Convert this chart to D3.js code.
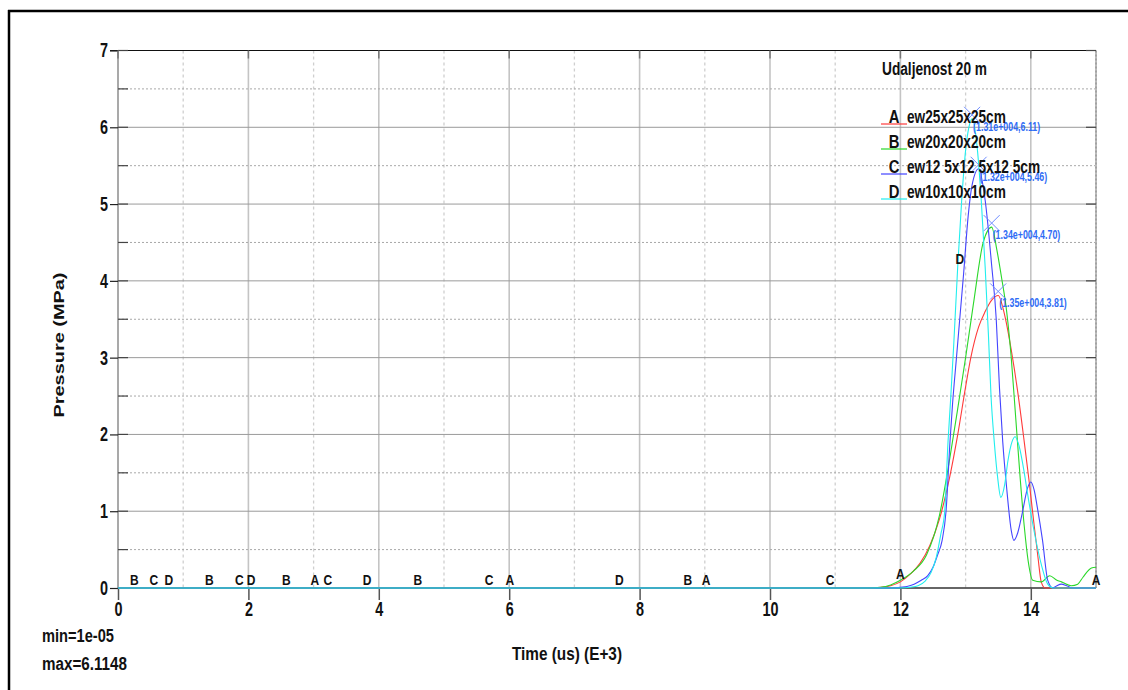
<!DOCTYPE html>
<html><head><meta charset="utf-8">
<script src="https://cdn.jsdelivr.net/npm/d3@7"></script>
<style>html,body{margin:0;padding:0;background:#fff;} svg{display:block;}</style>
</head><body>
<svg id="chart" width="1128" height="690"></svg>
<script>
// ---------- data ----------
const xTickValues = [0, 2, 4, 6, 8, 10, 12, 14];
const yTickValues = [0, 1, 2, 3, 4, 5, 6, 7];
const chartTitle = "Udaljenost 20 m";
const xAxisTitle = "Time (us) (E+3)";
const yAxisTitle = "Pressure (MPa)";
const statsLines = ["min=1e-05", "max=6.1148"];

const seriesLetters = ["A", "B", "C", "D"];
const seriesNames = ["ew25x25x25cm", "ew20x20x20cm", "ew12 5x12 5x12 5cm", "ew10x10x10cm"];
const seriesColors = ["#ff3a3a", "#2ad82a", "#4444ff", "#22eeee"];

const timeA = [0, 11.5, 11.7, 11.85, 12.0, 12.15, 12.3, 12.45, 12.6, 12.75, 12.88, 13.0, 13.08, 13.2, 13.3, 13.4, 13.5, 13.6, 13.7, 13.8, 13.9, 13.97, 14.04, 14.11, 14.16, 14.22, 15];
const pressureA = [0, 0, 0.01, 0.03, 0.08, 0.18, 0.32, 0.55, 0.9, 1.42, 2.0, 2.62, 3.0, 3.4, 3.6, 3.75, 3.81, 3.55, 3.1, 2.55, 1.9, 1.42, 0.9, 0.4, 0.08, 0, 0];

const timeB = [0, 11.5, 11.7, 11.85, 12.0, 12.2, 12.4, 12.6, 12.76, 12.9, 13.0, 13.12, 13.27, 13.4, 13.48, 13.55, 13.63, 13.7, 13.77, 13.84, 13.9, 13.96, 14.03, 14.16, 14.29, 14.4, 14.47, 14.62, 14.72, 14.8, 14.93, 15.0];
const pressureB = [0, 0, 0.01, 0.04, 0.1, 0.22, 0.43, 0.95, 1.7, 2.45, 3.0, 3.7, 4.5, 4.70, 4.4, 4.05, 3.6, 3.0, 2.2, 1.4, 0.8, 0.35, 0.1, 0.08, 0.16, 0.1, 0.08, 0.03, 0.05, 0.14, 0.26, 0.27];

const timeC = [0, 11.9, 12.0, 12.1, 12.21, 12.32, 12.42, 12.5, 12.57, 12.64, 12.7, 12.76, 12.8, 12.86, 12.92, 12.97, 13.04, 13.1, 13.2, 13.3, 13.4, 13.47, 13.52, 13.57, 13.63, 13.7, 13.74, 13.8, 13.87, 13.95, 14.0, 14.05, 14.1, 14.18, 14.26, 14.34, 14.4, 14.47, 14.55, 14.64, 15];
const pressureC = [0, 0, 0.01, 0.02, 0.05, 0.1, 0.16, 0.27, 0.43, 0.62, 1.0, 1.9, 2.4, 3.0, 3.6, 4.1, 4.85, 5.25, 5.46, 5.05, 4.2, 3.5, 2.6, 1.9, 1.3, 0.75, 0.62, 0.72, 0.98, 1.3, 1.38, 1.28, 1.05, 0.62, 0.1, 0, 0.03, 0.05, 0.03, 0, 0];

const timeD = [0, 12.0, 12.15, 12.27, 12.38, 12.47, 12.55, 12.62, 12.68, 12.73, 12.77, 12.82, 12.88, 12.94, 13.0, 13.05, 13.1, 13.17, 13.24, 13.3, 13.35, 13.39, 13.44, 13.49, 13.54, 13.6, 13.65, 13.71, 13.76, 13.82, 13.9, 13.95, 14.06, 14.16, 14.26, 14.34, 15];
const pressureD = [0, 0, 0.01, 0.03, 0.09, 0.2, 0.4, 0.7, 1.0, 1.9, 2.45, 3.2, 4.2, 5.05, 5.7, 6.0, 6.11, 5.8, 5.05, 4.18, 3.3, 2.5, 1.9, 1.45, 1.18, 1.35, 1.66, 1.9, 1.97, 1.85, 1.5, 1.23, 0.7, 0.31, 0.05, 0, 0];

const peakTimes = [13.5, 13.4, 13.2, 13.1];
const peakValues = [3.81, 4.70, 5.46, 6.11];
const peakLabels = ["(1.35e+004,3.81)", "(1.34e+004,4.70)", "(1.32e+004,5.46)", "(1.31e+004,6.11)"];

const markerLetters = ["B", "C", "D", "B", "C", "D", "B", "A", "C", "D", "B", "C", "A", "D", "B", "A", "C", "A", "D", "A"];
const markerTimes   = [0.25, 0.55, 0.78, 1.4, 1.86, 2.04, 2.58, 3.02, 3.22, 3.82, 4.6, 5.69, 6.01, 7.69, 8.74, 9.02, 10.92, 12.0, 12.91, 15.0];
const markerValues  = [0, 0, 0, 0, 0, 0, 0, 0, 0, 0, 0, 0, 0, 0, 0, 0, 0, 0.08, 4.18, 0];

// ---------- drawing ----------
const svg = d3.select("#chart");
const FONT = "'Liberation Sans Narrow','Arial Narrow','Liberation Sans',Arial,sans-serif";
const x = d3.scaleLinear().domain([0, 15]).range([118, 1096]);
const y = d3.scaleLinear().domain([0, 7]).range([588, 50.5]);

function squeeze(sel, k) {
  sel.each(function () {
    const w = this.getComputedTextLength();
    d3.select(this).attr("textLength", w * k).attr("lengthAdjust", "spacingAndGlyphs");
  });
}
function fitTo(sel, w) {
  sel.attr("textLength", w).attr("lengthAdjust", "spacingAndGlyphs");
}

// outer frame
svg.append("line").attr("x1", 8).attr("x2", 1128).attr("y1", 11).attr("y2", 11).attr("stroke", "#000").attr("stroke-width", 2.5);
svg.append("line").attr("x1", 9).attr("x2", 9).attr("y1", 10).attr("y2", 690).attr("stroke", "#000").attr("stroke-width", 2.5);

const grid = svg.append("g");
d3.range(1, 15).forEach(v => {
  const major = v % 2 === 0;
  grid.append("line").attr("x1", x(v)).attr("x2", x(v)).attr("y1", y(7)).attr("y2", y(0))
    .attr("stroke", major ? "#c4c4c4" : "#cfcfcf").attr("stroke-width", major ? 1.6 : 1.3)
    .attr("stroke-dasharray", major ? null : "3,3");
});
d3.range(0.5, 7, 0.5).forEach(v => {
  const major = Math.abs(v - Math.round(v)) < 1e-9;
  grid.append("line").attr("x1", x(0)).attr("x2", x(15)).attr("y1", y(v)).attr("y2", y(v))
    .attr("stroke", major ? "#9a9a9a" : "#a8a8a8").attr("stroke-width", 1)
    .attr("stroke-dasharray", major ? null : "2,2");
});
grid.append("line").attr("x1", x(15)).attr("x2", x(15)).attr("y1", y(7)).attr("y2", y(0)).attr("stroke", "#bdbdbd").attr("stroke-width", 2);
grid.append("line").attr("x1", x(15)).attr("x2", x(15)).attr("y1", y(7)).attr("y2", y(0)).attr("stroke", "#888").attr("stroke-width", 1).attr("stroke-dasharray", "2,2");
grid.append("line").attr("x1", x(0)).attr("x2", x(0)).attr("y1", y(7)).attr("y2", y(0)).attr("stroke", "#a9a9a9").attr("stroke-width", 2);
grid.append("line").attr("x1", x(0) - 8).attr("x2", x(15)).attr("y1", y(7)).attr("y2", y(7)).attr("stroke", "#111").attr("stroke-width", 1);
grid.append("line").attr("x1", x(0)).attr("x2", x(15)).attr("y1", y(0)).attr("y2", y(0)).attr("stroke", "#333").attr("stroke-width", 1.5);

// y axis
const yAxis = svg.append("g").attr("transform", `translate(${x(0)},0)`)
  .call(d3.axisLeft(y).tickValues(yTickValues).tickFormat(d3.format("d")).tickSize(8).tickPadding(2));
yAxis.select(".domain").remove();
yAxis.selectAll(".tick line").attr("stroke", "#222").attr("stroke-width", 1.2);
yAxis.selectAll(".tick text").attr("font-family", FONT).attr("font-weight", "bold").attr("font-size", 20).attr("fill", "#111");
squeeze(yAxis.selectAll(".tick text"), 0.72);
d3.range(0.5, 7.01, 0.5).forEach(v => {
  const major = Math.abs(v - Math.round(v)) < 1e-9;
  svg.append("line").attr("x1", x(0)).attr("x2", x(0) + 10).attr("y1", y(v)).attr("y2", y(v)).attr("stroke", "#444").attr("stroke-width", 1.2);
  if (major) svg.append("line").attr("x1", x(15) - 10).attr("x2", x(15)).attr("y1", y(v)).attr("y2", y(v)).attr("stroke", "#444").attr("stroke-width", 1.2);
});

// x axis
const xAxis = svg.append("g").attr("transform", `translate(0,${y(0)})`)
  .call(d3.axisBottom(x).tickValues(xTickValues).tickFormat(d3.format("d")).tickSize(12).tickPadding(2));
xAxis.select(".domain").remove();
xAxis.selectAll(".tick line").attr("stroke", "#555").attr("stroke-width", 1.5);
xAxis.selectAll(".tick text").attr("font-family", FONT).attr("font-weight", "bold").attr("font-size", 20).attr("fill", "#111");
squeeze(xAxis.selectAll(".tick text"), 0.72);
xTickValues.forEach(v => {
  svg.append("line").attr("x1", x(v)).attr("x2", x(v)).attr("y1", y(7)).attr("y2", y(7) + 8).attr("stroke", "#777").attr("stroke-width", 1.5);
});

// curves
const allTimes = [timeA, timeB, timeC, timeD];
const allValues = [pressureA, pressureB, pressureC, pressureD];
const line = d3.line().x(d => x(d[0])).y(d => y(d[1])).curve(d3.curveMonotoneX);
allTimes.forEach((ts, i) => {
  const pts = ts.map((t, j) => [t, allValues[i][j]]);
  svg.append("path").attr("d", line(pts)).attr("fill", "none")
    .attr("stroke", seriesColors[i]).attr("stroke-width", 1.1);
});

// curve letter markers
const mk = svg.append("g");
markerLetters.forEach((m, i) => {
  mk.append("text").attr("x", x(markerTimes[i])).attr("y", y(markerValues[i]) - 3)
    .attr("text-anchor", "middle").attr("font-family", FONT).attr("font-weight", "bold")
    .attr("font-size", 15).attr("fill", "#111").text(m);
});
squeeze(mk.selectAll("text"), 0.8);

// peak crosses and labels
const pk = svg.append("g");
peakTimes.forEach((t, i) => {
  const cx = x(t), cy = y(peakValues[i]) - 4, s = 8;
  pk.append("line").attr("x1", cx - s).attr("y1", cy - s).attr("x2", cx + s).attr("y2", cy + s).attr("stroke", "#6f8dff").attr("stroke-width", 1);
  pk.append("line").attr("x1", cx - s).attr("y1", cy + s).attr("x2", cx + s).attr("y2", cy - s).attr("stroke", "#6f8dff").attr("stroke-width", 1);
  pk.append("text").attr("x", cx + 1).attr("y", y(peakValues[i]) + 12)
    .attr("font-family", FONT).attr("font-weight", "bold").attr("font-size", 13)
    .attr("fill", "#2f6cf5").text(peakLabels[i]);
});
squeeze(pk.selectAll("text"), 0.68);

// legend
const lg = svg.append("g");
lg.append("text").attr("x", 882).attr("y", 75).attr("font-family", FONT).attr("font-weight", "bold")
  .attr("font-size", 18).attr("fill", "#111").text(chartTitle).call(fitTo, 105);
seriesLetters.forEach((L, i) => {
  const by = 124 + i * 25;
  lg.append("line").attr("x1", 881).attr("x2", 907).attr("y1", by).attr("y2", by).attr("stroke", seriesColors[i]).attr("stroke-width", 1.2);
  lg.append("text").attr("x", 894).attr("y", by - 1).attr("text-anchor", "middle").attr("font-family", FONT)
    .attr("font-weight", "bold").attr("font-size", 19).attr("fill", "#111").text(L).call(squeeze, 0.78);
  lg.append("text").attr("x", 907).attr("y", by - 1).attr("font-family", FONT)
    .attr("font-weight", "bold").attr("font-size", 19).attr("fill", "#111").text(seriesNames[i]).call(squeeze, 0.72);
});

// axis titles
svg.append("text").attr("transform", `translate(64,345) rotate(-90)`).attr("text-anchor", "middle")
  .attr("font-family", "'Liberation Sans',Arial,sans-serif").attr("font-weight", "bold").attr("font-size", 15)
  .attr("fill", "#111").text(yAxisTitle).call(fitTo, 145);
svg.append("text").attr("x", 567).attr("y", 660).attr("text-anchor", "middle").attr("font-family", FONT)
  .attr("font-weight", "bold").attr("font-size", 18).attr("fill", "#111").text(xAxisTitle).call(fitTo, 110);

// stats
const statsWidths = [72, 85];
statsLines.forEach((s, i) => {
  svg.append("text").attr("x", 42).attr("y", 642 + i * 28).attr("font-family", FONT)
    .attr("font-weight", "bold").attr("font-size", 18).attr("fill", "#111").text(s).call(fitTo, statsWidths[i]);
});
</script>
</body></html>
